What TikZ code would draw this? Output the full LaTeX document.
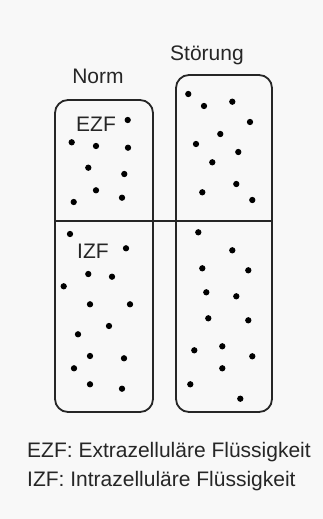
\documentclass[tikz,border=0pt]{standalone}
\usepackage{fontspec}
\setmainfont{Liberation Sans}
\definecolor{bggray}{HTML}{F8F8F8}
\definecolor{inkgray}{HTML}{262626}
\tikzset{
  label/.style={font=\fontsize{21}{25}\selectfont, inner sep=0pt, text=inkgray},
  wall/.style={draw=inkgray, line width=1.8pt, rounded corners=13pt},
  particle/.style={fill=black, draw=black, line width=1pt}
}
\begin{document}
\begin{tikzpicture}[x=1pt,y=-1pt]
	% Background
	\fill [bggray] (0,0) rectangle (323,519);
	\useasboundingbox (0,0) rectangle (323,519);
	% Compartments
	\draw [wall] (55,100) rectangle (153,412);
	\draw [wall] (176,75) rectangle (272,412);
	\draw [draw=inkgray, line width=1.8pt] (55,221) -- (272,221);
	% Titles
	\node [label, anchor=base] (norm) at (98,84) {Norm};
	\node [label, anchor=base] (stoerung) at (207,60) {Störung};
	\node [label, anchor=base west] (ezf) at (76,131.5) {EZF};
	\node [label, anchor=base west] (izf) at (77,258) {IZF};
	% Particles
	\foreach \x/\y in {127.7/120, 71.7/142.3, 96/146, 128/147.7, 88.3/167.7, 124.3/174,
		96/190.3, 122/197.7, 73.7/202,
		188.3/94, 204/106, 232.3/101.7, 250/122, 220.3/134, 196/144, 238.3/152,
		212.3/162.3, 236.3/184, 202.3/192.3, 252.3/200,
		70/234, 126/248.3, 88.3/274, 112/276.7, 63.7/286.3, 90/304.3, 130/304.3,
		109/326, 78/334.3, 90/356, 124/358.3, 74/368.3, 90/384.3, 122/388.7,
		198.3/232.3, 232.3/250.3, 202.3/268.3, 248.3/270.3, 206.3/292.3, 236.3/296.3,
		208.3/318.3, 248.3/320.3, 222.3/346.3, 194.3/350.3, 252.3/356.3, 222.3/368.3,
		190.3/384.3, 240.3/398.7}
		\path [particle] (\x,\y) circle [radius=2.6pt];
	% Legend
	\node [label, anchor=base west] (legezf) at (27,457) {EZF: Extrazelluläre Flüssigkeit};
	\node [label, anchor=base west] (legizf) at (27,486) {IZF: Intrazelluläre Flüssigkeit};
\end{tikzpicture}
\end{document}
